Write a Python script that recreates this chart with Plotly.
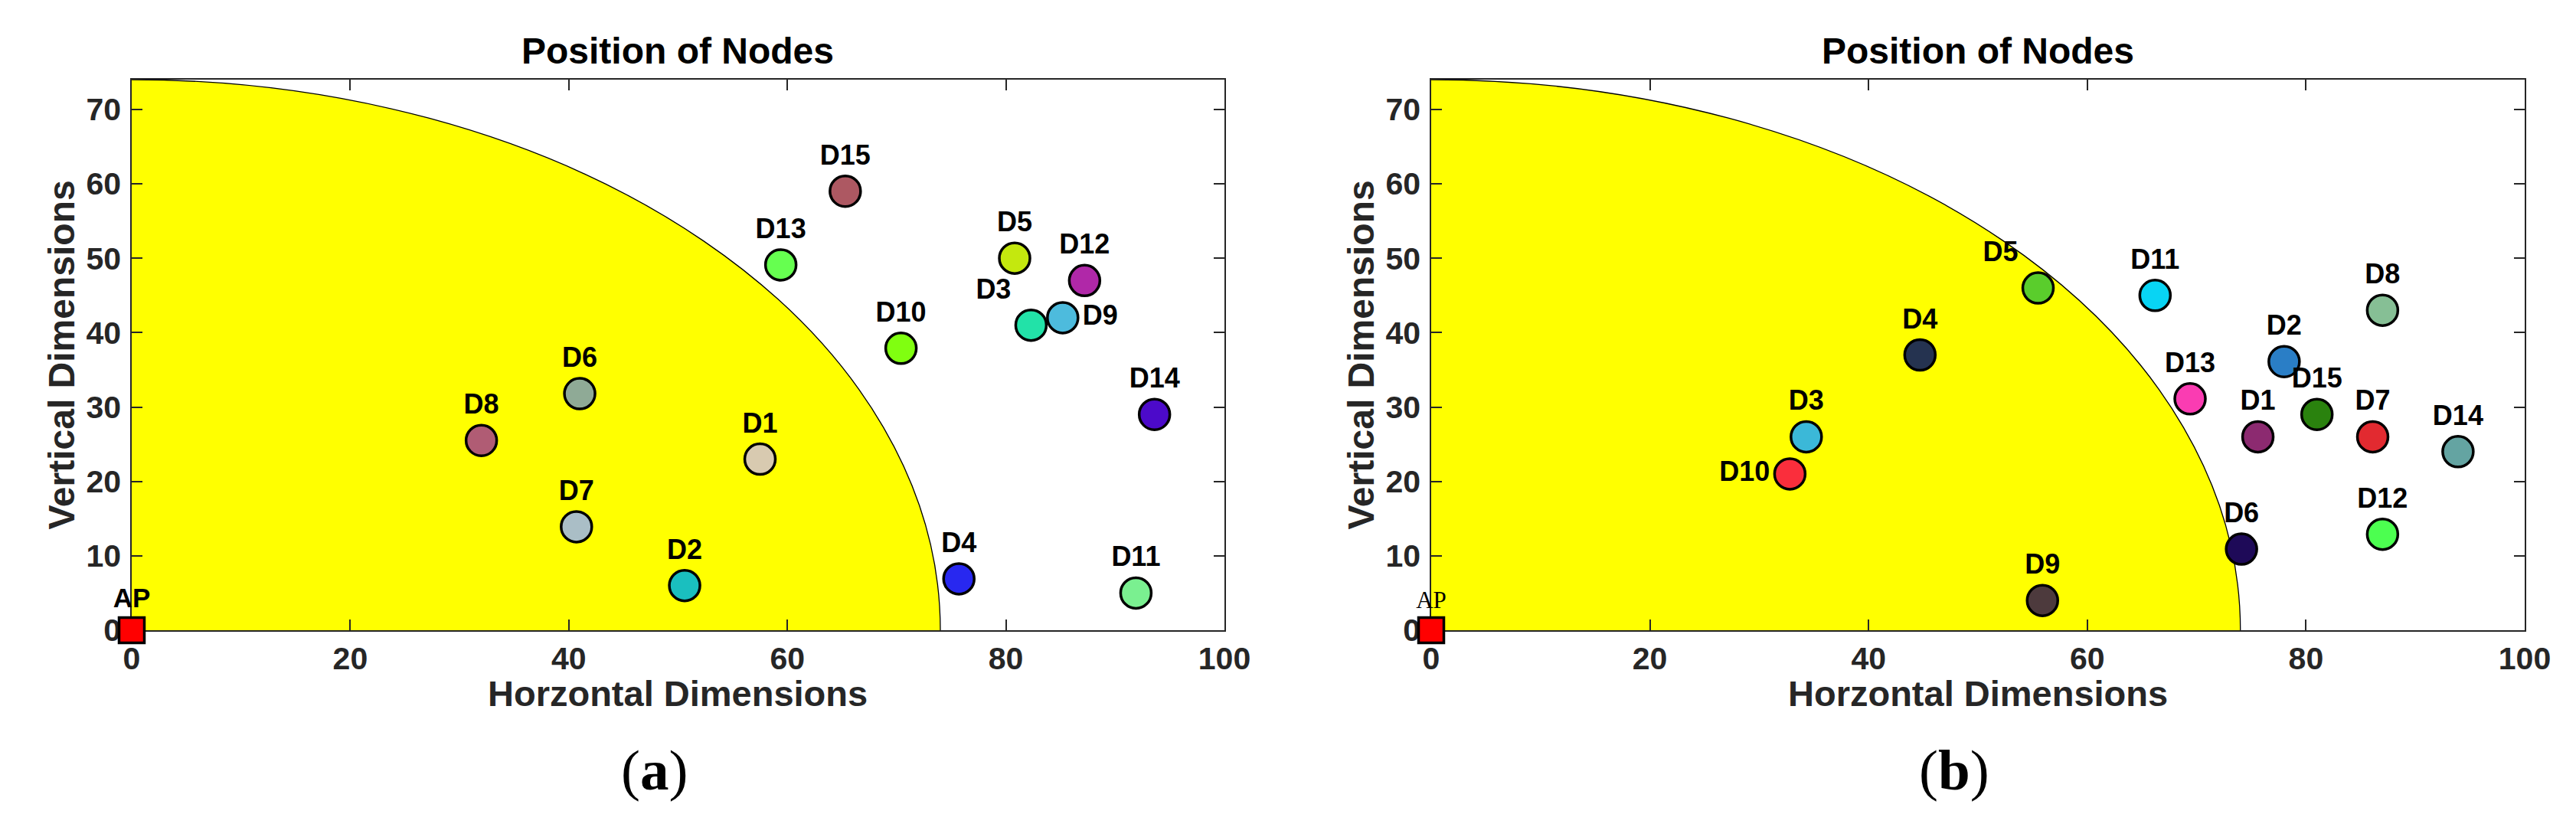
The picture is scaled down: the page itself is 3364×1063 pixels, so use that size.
import plotly.graph_objects as go

# ---------------- data ----------------
NODE_NAMES = ["D1", "D2", "D3", "D4", "D5", "D6", "D7", "D8", "D9", "D10",
              "D11", "D12", "D13", "D14", "D15"]

A_X = [57.5, 50.6, 82.3, 75.7, 80.8, 41.0, 40.7, 32.0, 85.2, 70.4, 91.9, 87.2, 59.4, 93.6, 65.3]
A_Y = [23.0, 6.0, 41.0, 6.9, 50.0, 31.8, 13.9, 25.5, 42.0, 37.9, 5.0, 47.0, 49.1, 29.0, 59.0]
A_COLORS = ["#D8CAB0", "#1ABFBF", "#22E2A8", "#2828F0", "#C4E80E", "#8FAA96", "#AABEC6",
            "#B05C74", "#4DBBDD", "#80FF10", "#7AF090", "#B028A8", "#66FF50", "#4C0ACA", "#AD5862"]

B_X = [75.6, 78.0, 34.3, 44.7, 55.5, 74.1, 86.1, 87.0, 55.9, 32.8, 66.2, 87.0, 69.4, 93.9, 81.0]
B_Y = [26.0, 36.1, 26.0, 37.0, 46.0, 10.9, 26.0, 43.0, 4.0, 21.0, 45.0, 12.9, 31.1, 24.0, 29.0]
B_COLORS = ["#8C2A70", "#2A7EC6", "#3BB8D8", "#253350", "#5ACD2C", "#1E0A58", "#E22A30",
            "#86BF95", "#4D3A3D", "#FA2E3C", "#08D4F4", "#4CFF50", "#FA3CB2", "#64A4A2", "#2A820E"]

AP_X = [0]
AP_Y = [0]
COVERAGE_RADIUS = 74

X_TICKS = [0, 20, 40, 60, 80, 100]
Y_TICKS = [0, 10, 20, 30, 40, 50, 60, 70]
X_RANGE = [0, 100]
Y_RANGE = [0, 74]

TITLE = "Position of Nodes"
X_TITLE = "Horzontal Dimensions"
Y_TITLE = "Vertical Dimensions"

# ---------------- style ----------------
W, H = 3364, 1063
SANS = "Liberation Sans, Arial, Helvetica, sans-serif"
SERIF = "Liberation Serif, Times New Roman, serif"
AXC = "#262626"

A_POS = {"D3": "top left", "D9": "middle right"}
B_POS = {"D10": "middle left", "D5": "top left"}

# pixel layout
PX_A = (164, 1591)
PX_B = (1861, 3289)
PY_TOP, PY_BOT = 96, 815


def fx(px):
    return px / W


def fy(py):
    return 1 - py / H


fig = go.Figure()


def add_panel(xs, ys, colors, pos_map, xa, ya, ap_font):
    positions = [pos_map.get(n, "top center") for n in NODE_NAMES]
    fig.add_trace(go.Scatter(
        x=xs, y=ys, mode="markers+text", text=NODE_NAMES,
        textposition=positions,
        textfont=dict(family=SANS, size=36, color="black", weight="bold"),
        marker=dict(size=40, color=colors, line=dict(color="black", width=3.5)),
        cliponaxis=False, showlegend=False, xaxis=xa, yaxis=ya,
    ))
    fig.add_trace(go.Scatter(
        x=AP_X, y=AP_Y, mode="markers+text", text=["AP"],
        textposition="top center", textfont=ap_font,
        marker=dict(symbol="square", size=33, color="#FF0000",
                    line=dict(color="black", width=3.5)),
        cliponaxis=False, showlegend=False, xaxis=xa, yaxis=ya,
    ))


add_panel(A_X, A_Y, A_COLORS, A_POS, "x", "y",
          dict(family=SANS, size=35, color="black", weight="bold"))
add_panel(B_X, B_Y, B_COLORS, B_POS, "x2", "y2",
          dict(family=SERIF, size=31, color="black"))

axis_common = dict(
    showgrid=False, zeroline=False, showline=True, linecolor=AXC, linewidth=1.5,
    mirror="ticks", ticks="inside", ticklen=14, tickwidth=1.5, tickcolor=AXC,
    tickfont=dict(family=SANS, size=41, color=AXC, weight="bold"),
    layer="below traces", fixedrange=True, automargin=False,
)

fig.update_layout(
    width=W, height=H, margin=dict(l=0, r=0, t=0, b=0),
    paper_bgcolor="white", plot_bgcolor="white",
    xaxis=dict(domain=[fx(PX_A[0]), fx(PX_A[1])], range=X_RANGE, tickvals=X_TICKS,
               anchor="y", ticklabelstandoff=0, **axis_common),
    yaxis=dict(domain=[fy(PY_BOT), fy(PY_TOP)], range=Y_RANGE, tickvals=Y_TICKS,
               anchor="x", ticklabelstandoff=4, **axis_common),
    xaxis2=dict(domain=[fx(PX_B[0]), fx(PX_B[1])], range=X_RANGE, tickvals=X_TICKS,
                anchor="y2", ticklabelstandoff=0, **axis_common),
    yaxis2=dict(domain=[fy(PY_BOT), fy(PY_TOP)], range=Y_RANGE, tickvals=Y_TICKS,
                anchor="x2", ticklabelstandoff=4, **axis_common),
)

# coverage area (quarter disc of radius COVERAGE_RADIUS centred on the AP)
for xr, yr in (("x", "y"), ("x2", "y2")):
    fig.add_shape(type="circle", xref=xr, yref=yr,
                  x0=AP_X[0] - COVERAGE_RADIUS, x1=AP_X[0] + COVERAGE_RADIUS,
                  y0=AP_Y[0] - COVERAGE_RADIUS, y1=AP_Y[0] + COVERAGE_RADIUS,
                  fillcolor="#FFFF00", line=dict(color="black", width=1.3),
                  layer="below")


def note(x, y, text, font, angle=0):
    fig.add_annotation(x=x, y=y, xref="paper", yref="paper", text=text,
                       xanchor="center", yanchor="middle", textangle=angle,
                       showarrow=False, font=font)


for (x0, x1), sub in ((PX_A, "a"), (PX_B, "b")):
    cx = fx((x0 + x1) / 2)
    note(cx, fy(58), TITLE, dict(family=SANS, size=48, color="black", weight="bold"))
    note(cx, fy(897), X_TITLE, dict(family=SANS, size=47, color=AXC, weight="bold"))
    note(fx(x0 - 92), fy((PY_TOP + PY_BOT) / 2), Y_TITLE,
         dict(family=SANS, size=48, color=AXC, weight="bold"), angle=-90)
    note(fx((x0 + x1) / 2 - 31), fy(997), "(<b>%s</b>)" % sub,
         dict(family=SERIF, size=75, color="black"))

fig.write_html("out.html")
